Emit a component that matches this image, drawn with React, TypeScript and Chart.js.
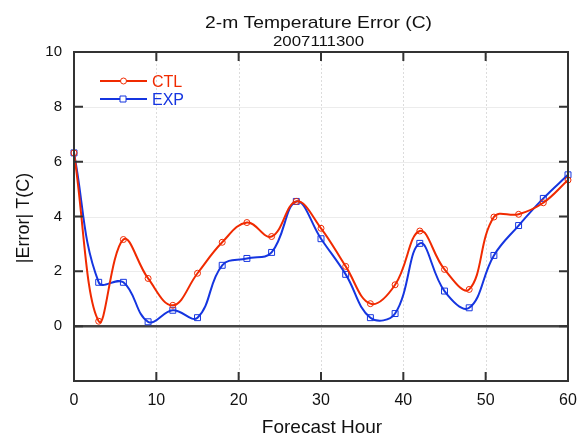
import React, { useEffect, useRef } from "react";
import { Chart, registerables } from "chart.js";

Chart.register(...registerables);

const titleText = "2-m Temperature Error (C)";
const subtitleText = "2007111300";
const xTitle = "Forecast Hour";
const yTitle = "|Error| T(C)";

const hours = [0, 3, 6, 9, 12, 15, 18, 21, 24, 27, 30, 33, 36, 39, 42, 45, 48, 51, 54, 57, 60];
const ctlValues = [6.32, 0.18, 3.16, 1.74, 0.76, 1.93, 3.06, 3.78, 3.27, 4.55, 3.57, 2.18, 0.82, 1.51, 3.47, 2.07, 1.34, 3.98, 4.08, 4.5, 5.33];
const expValues = [6.32, 1.6, 1.6, 0.16, 0.58, 0.31, 2.22, 2.47, 2.69, 4.55, 3.19, 1.89, 0.31, 0.46, 3.02, 1.28, 0.67, 2.58, 3.67, 4.66, 5.52];

const xTicks = [0, 10, 20, 30, 40, 50, 60];
const yTicks = [-2, 0, 2, 4, 6, 8, 10];

const RED = "#f02a00";
const BLUE = "#1535e0";
const FONT = "'Liberation Sans', Arial, Helvetica, sans-serif";

function stretchedText(ctx: any, text: string, cx: number, y: number, font: string, width: number) {
  ctx.save();
  ctx.font = font;
  const w = ctx.measureText(text).width;
  const s = width / w;
  ctx.translate(cx, y);
  ctx.scale(s, 1);
  ctx.textAlign = "center";
  ctx.fillText(text, 0, 0);
  ctx.restore();
}

const decor = {
  id: "decor",
  beforeDatasetsDraw(chart: any) {
    const { ctx, chartArea, scales } = chart;
    const { left, right, top, bottom } = chartArea;
    const x = scales.x;
    const y = scales.y;
    ctx.save();
    ctx.strokeStyle = "#dcdcdc";
    ctx.lineWidth = 1;
    ctx.setLineDash([2, 2]);
    xTicks.slice(1, -1).forEach((v) => {
      const px = Math.round(x.getPixelForValue(v)) + 0.5;
      ctx.beginPath();
      ctx.moveTo(px, top);
      ctx.lineTo(px, bottom);
      ctx.stroke();
    });
    ctx.setLineDash([]);
    ctx.strokeStyle = "#ececec";
    yTicks.filter((v) => v > 0 && v < 10).forEach((v) => {
      const py = Math.round(y.getPixelForValue(v)) + 0.5;
      ctx.beginPath();
      ctx.moveTo(left, py);
      ctx.lineTo(right, py);
      ctx.stroke();
    });
    const zy = y.getPixelForValue(0);
    ctx.strokeStyle = "#444";
    ctx.lineWidth = 2.5;
    ctx.beginPath();
    ctx.moveTo(left, zy);
    ctx.lineTo(right, zy);
    ctx.stroke();
    ctx.restore();
  },
  afterDraw(chart: any) {
    const { ctx, chartArea, scales } = chart;
    const { left, right, top, bottom } = chartArea;
    const x = scales.x;
    const y = scales.y;
    ctx.save();
    ctx.strokeStyle = "#333";
    ctx.lineWidth = 2;
    ctx.strokeRect(left, top, right - left, bottom - top);
    const tl = 9;
    ctx.beginPath();
    xTicks.slice(1, -1).forEach((v) => {
      const px = x.getPixelForValue(v);
      ctx.moveTo(px, bottom);
      ctx.lineTo(px, bottom - tl);
      ctx.moveTo(px, top);
      ctx.lineTo(px, top + tl);
    });
    yTicks.slice(1, -1).forEach((v) => {
      const py = y.getPixelForValue(v);
      ctx.moveTo(left, py);
      ctx.lineTo(left + tl, py);
      ctx.moveTo(right, py);
      ctx.lineTo(right - tl, py);
    });
    ctx.stroke();

    const cx = (left + right) / 2 - 2.5;
    ctx.fillStyle = "#111";
    ctx.textBaseline = "alphabetic";
    stretchedText(ctx, titleText, cx, 27.5, `17px ${FONT}`, 227);
    stretchedText(ctx, subtitleText, cx, 45.7, `15px ${FONT}`, 91);
    ctx.textAlign = "center";
    ctx.font = `19px ${FONT}`;
    ctx.fillText(xTitle, (left + right) / 2 + 1, 433);
    ctx.save();
    ctx.translate(29, (top + bottom) / 2 + 1.5);
    ctx.rotate(-Math.PI / 2);
    ctx.font = `18px ${FONT}`;
    ctx.fillText(yTitle, 0, 0);
    ctx.restore();

    const items = chart.data.datasets;
    const rows = [81, 99];
    items.forEach((ds: any, i: number) => {
      const ly = rows[i];
      ctx.strokeStyle = ds.borderColor;
      ctx.lineWidth = 2;
      ctx.beginPath();
      ctx.moveTo(100, ly);
      ctx.lineTo(147, ly);
      ctx.stroke();
      ctx.lineWidth = 1;
      ctx.beginPath();
      if (ds.pointStyle === "rect") {
        ctx.rect(120, ly - 3, 6, 6);
      } else {
        ctx.arc(123.5, ly, 3, 0, Math.PI * 2);
      }
      ctx.fillStyle = "#fff";
      ctx.fill();
      ctx.stroke();
      ctx.fillStyle = ds.borderColor;
      ctx.textAlign = "left";
      ctx.font = `16px ${FONT}`;
      ctx.fillText(ds.label, 152, ly + 6);
    });
    ctx.restore();
  },
};

export default function App() {
  const ref = useRef<HTMLCanvasElement | null>(null);
  useEffect(() => {
    document.body.style.margin = "0";
    const canvas = ref.current;
    if (!canvas) return;
    const chart = new Chart(canvas, {
      type: "line",
      data: {
        datasets: [
          {
            label: "CTL",
            data: hours.map((h, i) => ({ x: h, y: ctlValues[i] })),
            borderColor: RED,
            borderWidth: 2,
            pointStyle: "circle",
            pointRadius: 3,
            pointBorderWidth: 1,
            pointBorderColor: RED,
            pointBackgroundColor: "rgba(0,0,0,0)",
            tension: 0.4,
            clip: false as any,
          },
          {
            label: "EXP",
            data: hours.map((h, i) => ({ x: h, y: expValues[i] })),
            borderColor: BLUE,
            borderWidth: 2,
            pointStyle: "rect",
            pointRadius: 4.2,
            pointBorderWidth: 1,
            pointBorderColor: BLUE,
            pointBackgroundColor: "rgba(0,0,0,0)",
            tension: 0.4,
            clip: false as any,
          },
        ],
      },
      options: {
        animation: false,
        responsive: false,
        layout: { padding: { top: 52, right: 11, left: 0, bottom: 0 } },
        plugins: { legend: { display: false }, tooltip: { enabled: false }, title: { display: false } },
        scales: {
          x: {
            type: "linear",
            min: 0,
            max: 60,
            afterFit: (s: any) => {
              s.height = 55;
              s.paddingLeft = 0;
              s.paddingRight = 0;
            },
            afterBuildTicks: (s: any) => {
              s.ticks = xTicks.map((v) => ({ value: v }));
            },
            ticks: {
              padding: 10,
              color: "#111",
              font: { family: FONT, size: 16 },
              maxRotation: 0,
              autoSkip: false,
            },
            grid: { drawOnChartArea: false, drawTicks: false },
            border: { display: false },
          },
          y: {
            type: "linear",
            min: -2,
            max: 10,
            afterFit: (s: any) => {
              s.width = 74;
              s.paddingTop = 0;
              s.paddingBottom = 0;
            },
            afterBuildTicks: (s: any) => {
              s.ticks = yTicks.map((v) => ({ value: v }));
            },
            ticks: {
              padding: 12,
              color: "#111",
              font: { family: FONT, size: 15 },
              callback: (v: any) => (v === -2 ? "" : String(v)),
              autoSkip: false,
            },
            grid: { drawOnChartArea: false, drawTicks: false },
            border: { display: false },
          },
        },
      },
      plugins: [decor],
    });
    return () => chart.destroy();
  }, []);
  return (
    <div style={{ width: 579, height: 436, background: "#fff" }}>
      <canvas ref={ref} width={579} height={436} style={{ display: "block" }} />
    </div>
  );
}
